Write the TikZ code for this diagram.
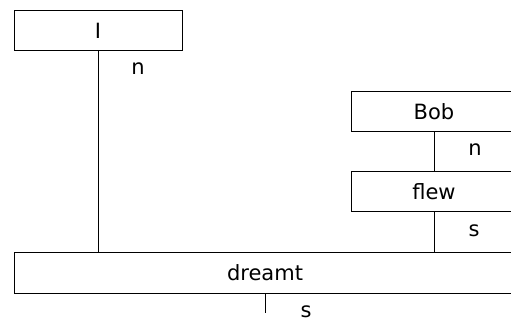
\documentclass[tikz,border=0pt]{standalone}
\usepackage{fontspec}
\setmainfont{DejaVu Sans}
\usepackage{tikz}

\begin{document}
\begin{tikzpicture}
    [
		x=1pt, y=-1pt,
		word/.style={
			draw, rectangle, align=center, minimum height=40pt, line width=1pt,
			inner sep=0pt, font=\fontsize{21}{25}\selectfont
		},
		rel/.style={
			font=\fontsize{21}{25}\selectfont, inner sep=0pt
		},
		link/.style={
			line width=1pt
		}
	]

\useasboundingbox (0,0) rectangle (511,320);

% Nodes
\node (I) [word, minimum width=168pt] at (98,31) {I};
\node (Bob) [word, minimum width=166pt] at (434,112) {Bob};
\node (flew) [word, minimum width=166pt] at (434,192) {flew};
\node (dreamt) [word, minimum width=502pt] at (265,273) {dreamt};
\coordinate (root) at (265,313);

% Labels
\node (nI) [rel] at (138,69) {n};
\node (nBob) [rel] at (475,150) {n};
\node (sflew) [rel] at (474,231) {s};
\node (sdreamt) [rel, anchor=base] at (306,317) {s};

% Links
\draw [link] (I) -- (I |- dreamt.north);
\draw [link] (Bob) -- (flew);
\draw [link] (flew) -- (flew |- dreamt.north);
\draw [link] (dreamt) -- (root);

\end{tikzpicture}
\end{document}
